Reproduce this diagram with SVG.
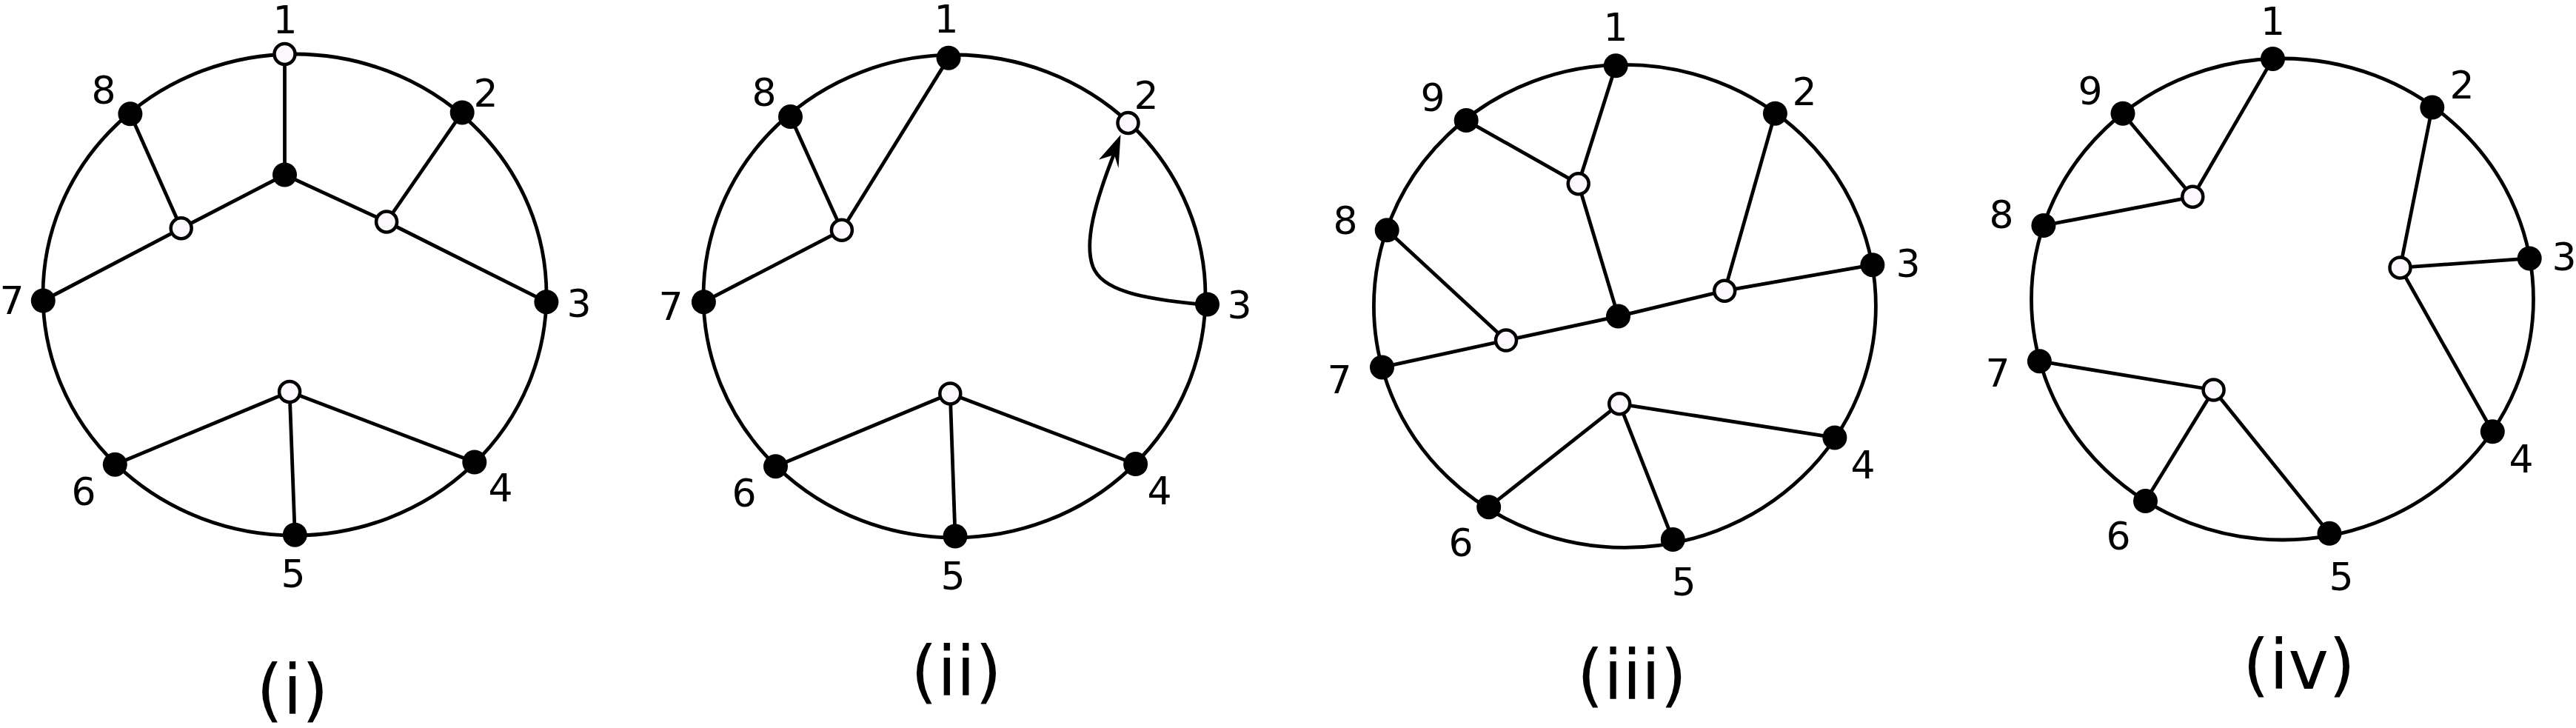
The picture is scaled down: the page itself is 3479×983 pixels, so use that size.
<svg xmlns="http://www.w3.org/2000/svg" width="3479" height="983" viewBox="0 0 3479 983">
<style>
.rim{fill:none;stroke:#000;stroke-width:4.8}
.e{stroke:#000;stroke-width:4.8;fill:none}
.f{fill:#000}
.o{fill:#fcf7fc;stroke:#000;stroke-width:4.5}
.n{font-family:"DejaVu Sans",Verdana,sans-serif;font-size:52px;fill:#000;text-anchor:middle}
.cap{font-family:"DejaVu Sans",Verdana,sans-serif;font-size:92px;fill:#000;text-anchor:middle}
</style>
<rect width="3479" height="983" fill="#fff"/>

<!-- Diagram (i) -->
<g id="diagram-i">
<ellipse class="rim" cx="398" cy="398" rx="340" ry="325"/>
<g id="connectors-i">
<line class="e" x1="384.5" y1="73" x2="384.5" y2="236"/>
<line class="e" x1="384.5" y1="236" x2="244.7" y2="308.3"/>
<line class="e" x1="384.5" y1="236" x2="522.1" y2="299.5"/>
<line class="e" x1="244.7" y1="308.3" x2="175.9" y2="153.8"/>
<line class="e" x1="244.7" y1="308.3" x2="58.3" y2="406"/>
<line class="e" x1="522.1" y1="299.5" x2="624.2" y2="151.9"/>
<line class="e" x1="522.1" y1="299.5" x2="737.9" y2="407.7"/>
<line class="e" x1="391.1" y1="529" x2="155.3" y2="627.2"/>
<line class="e" x1="391.1" y1="529" x2="398.3" y2="722.2"/>
<line class="e" x1="391.1" y1="529" x2="640.8" y2="624.1"/>
</g>
<g id="i-v1"><circle class="o" cx="384.5" cy="73" r="14"/><text class="n" x="385" y="45">1</text></g>
<g id="i-v2"><circle class="f" cx="624.2" cy="151.9" r="16.5"/><text class="n" x="656" y="144">2</text></g>
<g id="i-v3"><circle class="f" cx="737.9" cy="407.7" r="16.5"/><text class="n" x="782" y="428">3</text></g>
<g id="i-v4"><circle class="f" cx="640.8" cy="624.1" r="16.5"/><text class="n" x="676" y="677">4</text></g>
<g id="i-v5"><circle class="f" cx="398.3" cy="722.2" r="16.5"/><text class="n" x="396" y="793">5</text></g>
<g id="i-v6"><circle class="f" cx="155.3" cy="627.2" r="16.5"/><text class="n" x="113" y="682">6</text></g>
<g id="i-v7"><circle class="f" cx="58.3" cy="406" r="16.5"/><text class="n" x="16" y="424">7</text></g>
<g id="i-v8"><circle class="f" cx="175.9" cy="153.8" r="16.5"/><text class="n" x="140" y="140">8</text></g>
<g id="i-c"><circle class="f" cx="384.5" cy="236" r="16.5"/></g>
<g id="i-l"><circle class="o" cx="244.7" cy="308.3" r="14"/></g>
<g id="i-r"><circle class="o" cx="522.1" cy="299.5" r="14"/></g>
<g id="i-b"><circle class="o" cx="391.1" cy="529" r="14"/></g>
<text class="cap" x="395" y="964">(i)</text>
</g>

<!-- Diagram (ii) -->
<g id="diagram-ii">
<ellipse class="rim" cx="1289" cy="400" rx="339" ry="326"/>
<g id="connectors-ii">
<line class="e" x1="1281.1" y1="78.2" x2="1136.9" y2="310.8"/>
<line class="e" x1="1067.5" y1="157.6" x2="1136.9" y2="310.8"/>
<line class="e" x1="950.4" y1="407.7" x2="1136.9" y2="310.8"/>
<line class="e" x1="1283.3" y1="531.5" x2="1047.5" y2="629.7"/>
<line class="e" x1="1283.3" y1="531.5" x2="1290" y2="724.1"/>
<line class="e" x1="1283.3" y1="531.5" x2="1533.6" y2="626.6"/>
<path class="e" d="M1622,411 C1540,403 1488,392 1476,360 C1464,328 1478,275 1506,204"/>
<polygon points="1513.5,182 1484,215.5 1505,209 1510.5,227" fill="#000"/>
</g>
<g id="ii-v1"><circle class="f" cx="1281.1" cy="78.2" r="16.5"/><text class="n" x="1278" y="44">1</text></g>
<g id="ii-v2"><circle class="o" cx="1523.5" cy="166" r="14"/><text class="n" x="1548" y="147">2</text></g>
<g id="ii-v3"><circle class="f" cx="1630.5" cy="411" r="16.5"/><text class="n" x="1674" y="430">3</text></g>
<g id="ii-v4"><circle class="f" cx="1533.6" cy="626.6" r="16.5"/><text class="n" x="1566" y="681">4</text></g>
<g id="ii-v5"><circle class="f" cx="1290" cy="724.1" r="16.5"/><text class="n" x="1287" y="796">5</text></g>
<g id="ii-v6"><circle class="f" cx="1047.5" cy="629.7" r="16.5"/><text class="n" x="1005" y="684">6</text></g>
<g id="ii-v7"><circle class="f" cx="950.4" cy="407.7" r="16.5"/><text class="n" x="906" y="432">7</text></g>
<g id="ii-v8"><circle class="f" cx="1067.5" cy="157.6" r="16.5"/><text class="n" x="1032" y="143">8</text></g>
<g id="ii-t"><circle class="o" cx="1136.9" cy="310.8" r="14"/></g>
<g id="ii-b"><circle class="o" cx="1283.3" cy="531.5" r="14"/></g>
<text class="cap" x="1291.5" y="939">(ii)</text>
</g>

<!-- Diagram (iii) -->
<g id="diagram-iii">
<ellipse class="rim" cx="2194.4" cy="413.3" rx="339" ry="326"/>
<g id="connectors-iii">
<line class="e" x1="2182.2" y1="88.8" x2="2131.7" y2="248.2"/>
<line class="e" x1="1980.2" y1="162.6" x2="2131.7" y2="248.2"/>
<line class="e" x1="2131.7" y1="248.2" x2="2185.5" y2="427.1"/>
<line class="e" x1="2185.5" y1="427.1" x2="2034" y2="459.6"/>
<line class="e" x1="2185.5" y1="427.1" x2="2329.2" y2="392.7"/>
<line class="e" x1="2329.2" y1="392.7" x2="2397.4" y2="153.2"/>
<line class="e" x1="2329.2" y1="392.7" x2="2528.9" y2="357.7"/>
<line class="e" x1="2034" y1="459.6" x2="1873.2" y2="310.8"/>
<line class="e" x1="2034" y1="459.6" x2="1866.5" y2="495.9"/>
<line class="e" x1="2187.2" y1="545.3" x2="2010.7" y2="684.7"/>
<line class="e" x1="2187.2" y1="545.3" x2="2259.3" y2="728.5"/>
<line class="e" x1="2187.2" y1="545.3" x2="2477.9" y2="590.9"/>
</g>
<g id="iii-v1"><circle class="f" cx="2182.2" cy="88.8" r="16.5"/><text class="n" x="2182" y="55">1</text></g>
<g id="iii-v2"><circle class="f" cx="2397.4" cy="153.2" r="16.5"/><text class="n" x="2437" y="142">2</text></g>
<g id="iii-v3"><circle class="f" cx="2528.9" cy="357.7" r="16.5"/><text class="n" x="2577" y="374">3</text></g>
<g id="iii-v4"><circle class="f" cx="2477.9" cy="590.9" r="16.5"/><text class="n" x="2516" y="646">4</text></g>
<g id="iii-v5"><circle class="f" cx="2259.3" cy="728.5" r="16.5"/><text class="n" x="2274" y="804">5</text></g>
<g id="iii-v6"><circle class="f" cx="2010.7" cy="684.7" r="16.5"/><text class="n" x="1973" y="751">6</text></g>
<g id="iii-v7"><circle class="f" cx="1866.5" cy="495.9" r="16.5"/><text class="n" x="1809" y="531">7</text></g>
<g id="iii-v8"><circle class="f" cx="1873.2" cy="310.8" r="16.5"/><text class="n" x="1817" y="316">8</text></g>
<g id="iii-v9"><circle class="f" cx="1980.2" cy="162.6" r="16.5"/><text class="n" x="1935" y="150">9</text></g>
<g id="iii-a"><circle class="o" cx="2131.7" cy="248.2" r="14"/></g>
<g id="iii-c"><circle class="f" cx="2185.5" cy="427.1" r="16.5"/></g>
<g id="iii-r"><circle class="o" cx="2329.2" cy="392.7" r="14"/></g>
<g id="iii-l"><circle class="o" cx="2034" cy="459.6" r="14"/></g>
<g id="iii-b"><circle class="o" cx="2187.2" cy="545.3" r="14"/></g>
<text class="cap" x="2204" y="944">(iii)</text>
</g>

<!-- Diagram (iv) -->
<g id="diagram-iv">
<ellipse class="rim" cx="3082.5" cy="404" rx="339" ry="325"/>
<g id="connectors-iv">
<line class="e" x1="2961.3" y1="265.8" x2="3069.5" y2="79.4"/>
<line class="e" x1="2961.3" y1="265.8" x2="2867" y2="153.2"/>
<line class="e" x1="2961.3" y1="265.8" x2="2759.9" y2="304.5"/>
<line class="e" x1="3241.5" y1="361.4" x2="3284.8" y2="145.1"/>
<line class="e" x1="3241.5" y1="361.4" x2="3416.2" y2="348.9"/>
<line class="e" x1="3241.5" y1="361.4" x2="3366.3" y2="582.8"/>
<line class="e" x1="2989.6" y1="526.5" x2="2754.4" y2="487.7"/>
<line class="e" x1="2989.6" y1="526.5" x2="2897.5" y2="676.6"/>
<line class="e" x1="2989.6" y1="526.5" x2="3146" y2="720.3"/>
</g>
<g id="iv-v1"><circle class="f" cx="3069.5" cy="79.4" r="16.5"/><text class="n" x="3069.5" y="47">1</text></g>
<g id="iv-v2"><circle class="f" cx="3284.8" cy="145.1" r="16.5"/><text class="n" x="3325" y="133">2</text></g>
<g id="iv-v3"><circle class="f" cx="3416.2" cy="348.9" r="16.5"/><text class="n" x="3463" y="365">3</text></g>
<g id="iv-v4"><circle class="f" cx="3366.3" cy="582.8" r="16.5"/><text class="n" x="3405" y="638">4</text></g>
<g id="iv-v5"><circle class="f" cx="3146" cy="720.3" r="16.5"/><text class="n" x="3162" y="797">5</text></g>
<g id="iv-v6"><circle class="f" cx="2897.5" cy="676.6" r="16.5"/><text class="n" x="2861" y="742">6</text></g>
<g id="iv-v7"><circle class="f" cx="2754.4" cy="487.7" r="16.5"/><text class="n" x="2698" y="522">7</text></g>
<g id="iv-v8"><circle class="f" cx="2759.9" cy="304.5" r="16.5"/><text class="n" x="2703" y="308">8</text></g>
<g id="iv-v9"><circle class="f" cx="2867" cy="153.2" r="16.5"/><text class="n" x="2823" y="141">9</text></g>
<g id="iv-t"><circle class="o" cx="2961.3" cy="265.8" r="14"/></g>
<g id="iv-r"><circle class="o" cx="3241.5" cy="361.4" r="14"/></g>
<g id="iv-b"><circle class="o" cx="2989.6" cy="526.5" r="14"/></g>
<text class="cap" x="3105" y="930">(iv)</text>
</g>
</svg>
